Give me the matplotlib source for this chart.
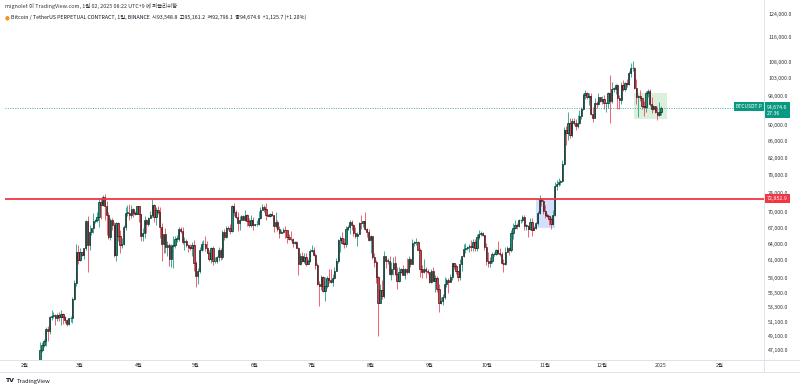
import numpy as np
import pandas as pd
import matplotlib
matplotlib.use('Agg')
import matplotlib.pyplot as plt
import matplotlib.dates as mdates
import matplotlib.transforms as mtransforms
from matplotlib.patches import Rectangle
from matplotlib.lines import Line2D

plt.rcParams['font.family'] = ['Noto Sans CJK KR', 'DejaVu Sans']

# ---------------- data (prices in thousands USDT) ----------------
start_date = '2024-02-01'
first_open_k = 42.6

close_k = [
    # Feb
    43.1,43.2,43.0,42.6,42.7,43.1,44.3,45.3,47.1,47.8,48.3,50.0,49.7,51.8,52.0,52.1,51.6,52.1,51.8,52.3,51.8,51.3,50.7,51.6,51.7,54.5,57.1,62.5,61.1,
    # Mar
    62.4,62.0,63.1,68.3,63.8,66.1,66.9,68.3,68.5,69.0,72.1,71.5,73.1,71.4,69.5,65.3,68.4,67.6,61.9,67.9,65.5,63.8,64.0,67.2,69.9,69.9,69.5,70.7,69.9,69.6,71.3,
    # Apr
    69.7,65.5,66.0,68.5,67.8,68.9,69.4,71.6,69.1,70.6,70.0,67.1,64.0,65.7,63.4,63.8,61.3,63.5,63.8,64.9,64.9,66.8,66.4,64.3,64.5,63.8,63.4,63.1,63.8,60.6,
    # May
    58.3,59.1,62.9,63.9,64.0,63.2,62.3,61.2,63.1,60.8,60.8,61.5,62.9,61.6,66.2,65.2,67.0,66.9,66.3,71.4,70.1,69.1,67.9,68.5,69.3,68.5,69.4,68.3,67.6,68.4,67.5,
    # Jun
    67.7,67.8,68.8,70.5,71.1,70.8,69.4,69.3,69.6,69.5,67.3,68.2,66.8,66.0,66.2,66.6,66.5,65.2,64.9,64.8,64.1,64.3,63.2,60.3,61.8,60.9,61.6,60.3,60.9,62.7,
    # Jul
    62.8,62.0,60.2,57.0,56.7,58.2,55.9,56.7,58.0,57.7,57.3,57.9,59.2,60.8,64.7,65.1,64.1,63.9,66.7,67.2,68.2,67.6,65.9,65.4,65.8,68.0,67.9,68.3,66.8,66.2,64.6,
    # Aug
    65.4,61.5,60.7,58.1,54.0,56.0,55.1,61.7,60.9,60.9,58.7,59.4,60.6,58.7,57.5,58.9,59.5,58.4,59.5,59.0,61.2,60.4,64.1,64.2,64.2,62.8,59.4,59.0,59.4,59.1,58.9,
    # Sep
    57.3,59.1,57.5,57.9,56.2,53.9,54.2,54.8,57.0,57.6,57.3,58.1,60.5,60.0,59.1,58.2,60.3,61.8,63.0,63.2,63.3,63.6,63.3,64.3,63.1,65.2,65.8,65.9,65.6,63.3,
    # Oct
    60.8,60.6,60.8,62.1,62.1,62.8,62.2,62.1,60.6,60.3,62.4,63.2,62.8,66.0,67.0,67.6,67.4,68.4,68.4,69.0,67.4,67.4,66.7,68.2,66.6,67.0,67.9,69.9,72.7,72.3,70.2,
    # Nov
    69.5,69.3,68.7,67.8,69.4,75.6,75.9,76.5,76.7,80.4,88.7,87.9,90.5,87.4,91.0,90.6,89.8,90.5,92.3,94.3,98.3,98.9,97.7,98.0,93.0,91.9,95.9,95.6,97.5,96.4,
    # Dec
    97.2,95.9,96.0,98.8,96.6,99.9,99.9,101.2,97.4,96.7,101.2,100.0,101.5,101.4,104.5,106.1,106.1,100.2,97.5,97.8,97.3,95.2,94.9,98.7,99.3,95.8,94.2,95.2,93.6,92.8,93.5488,
    # Jan 2025
    94.6746,
]

high_k = [
    43.3,43.5,43.4,43.1,43.5,43.4,44.5,45.6,48.2,48.2,48.6,50.3,50.4,52.0,52.8,52.6,52.2,52.4,52.5,52.9,52.4,52.0,51.5,51.7,51.9,54.9,57.6,64.0,63.7,
    63.2,62.5,63.2,68.5,69.2,67.6,67.0,69.9,68.6,70.0,72.8,73.0,73.6,73.8,72.4,70.0,68.9,68.9,68.1,68.1,68.2,66.6,65.0,67.6,71.2,71.5,71.8,71.6,70.9,70.3,71.4,
    71.3,69.7,66.9,69.3,68.7,69.0,70.3,72.8,71.8,71.2,71.3,71.2,67.9,65.8,66.9,64.4,64.1,64.0,65.5,65.4,65.6,67.2,67.2,67.1,65.3,64.8,63.9,64.0,64.2,64.7,
    60.8,59.6,63.3,64.5,64.6,65.5,64.4,62.9,63.4,63.5,61.5,61.8,63.4,63.1,66.5,66.7,67.4,67.4,67.7,71.5,71.9,70.6,70.0,69.2,69.5,69.5,70.6,69.6,68.9,69.5,69.0,
    67.8,68.4,70.3,71.1,71.8,71.6,72.0,69.6,69.9,70.2,69.5,70.0,68.4,67.4,66.5,67.0,67.3,66.5,65.7,66.4,65.0,64.5,64.5,63.4,62.3,62.5,62.3,62.2,61.2,63.0,
    63.8,63.3,62.3,60.5,57.5,58.5,58.3,58.2,58.3,59.5,59.5,58.6,59.9,61.4,64.9,65.4,66.1,65.1,67.4,67.6,68.4,68.5,67.8,67.1,66.1,68.2,69.4,68.3,70.0,66.9,66.8,
    65.6,65.5,62.2,61.1,58.3,57.0,57.7,62.7,61.7,61.4,61.8,60.7,61.6,61.8,59.8,59.8,59.6,60.2,59.6,61.4,61.8,61.4,64.9,64.5,65.0,64.5,63.2,60.2,61.2,59.9,59.4,
    59.0,59.4,59.8,58.5,58.3,56.9,54.8,55.3,58.1,58.0,57.9,58.6,60.6,60.6,60.4,59.2,61.3,61.8,63.9,64.1,63.5,64.0,64.7,64.8,64.8,65.8,66.5,66.3,66.1,65.6,
    64.1,62.4,61.5,62.5,62.4,63.0,64.5,63.2,62.5,61.3,63.4,63.5,63.3,66.5,67.9,68.4,67.9,68.7,68.7,69.4,69.5,67.8,67.5,68.8,68.8,67.4,68.2,70.3,73.6,72.9,72.7,
    71.6,69.9,69.4,69.0,70.6,76.5,76.9,77.3,76.8,81.5,89.6,89.9,93.4,91.8,91.9,91.8,91.6,92.6,94.0,94.9,98.9,99.6,99.0,98.7,98.9,94.8,97.3,96.6,98.7,97.6,
    98.0,98.2,96.3,99.0,104.0,101.9,100.5,101.4,101.3,98.3,101.9,102.5,102.0,102.7,105.1,107.8,108.3,106.5,102.8,98.1,99.5,97.4,96.5,99.4,99.9,99.9,97.5,95.5,95.2,94.9,96.2,
    95.1612,
]

low_k = [
    42.0,42.6,42.9,42.3,42.3,42.6,42.8,44.3,45.2,46.8,47.5,47.7,48.3,49.3,51.3,51.6,50.6,51.2,51.2,50.6,50.8,50.9,50.5,50.6,51.0,50.9,54.4,56.7,60.4,
    60.8,61.7,61.3,62.8,59.0,62.8,65.6,66.0,68.0,68.2,67.2,68.7,71.3,68.5,65.6,64.8,64.6,66.6,61.5,60.8,64.5,62.3,63.1,63.8,66.6,69.3,68.4,68.9,69.1,69.5,69.6,
    68.1,64.5,64.5,65.1,66.0,67.3,68.8,69.1,68.2,67.5,69.6,65.1,60.9,62.3,62.3,61.8,60.0,59.8,59.6,63.2,64.2,64.5,65.9,63.9,62.8,63.3,62.5,62.8,61.8,59.2,
    56.5,56.9,58.8,62.6,62.9,62.7,62.3,60.9,60.6,60.2,60.5,60.6,60.8,61.1,61.3,64.6,65.1,66.6,65.8,66.1,69.2,68.9,66.3,66.6,68.5,68.4,68.3,67.3,67.1,67.1,66.6,
    67.4,67.3,67.6,68.6,70.4,70.1,68.5,69.2,69.1,69.2,66.1,66.9,66.3,65.1,65.9,66.0,65.1,64.1,64.7,64.5,63.4,63.9,63.2,58.4,60.2,60.7,60.6,60.0,60.3,60.7,
    62.5,61.8,59.4,56.8,53.5,56.0,55.7,54.3,56.3,57.2,57.1,56.6,57.8,59.1,60.6,62.4,63.9,63.2,63.3,66.5,65.8,66.6,65.4,65.1,63.5,65.8,66.7,67.1,66.5,65.3,64.5,
    62.3,61.3,59.9,57.2,49.0,53.9,54.6,54.7,59.6,60.3,58.4,57.7,58.5,58.4,56.1,57.3,58.8,58.4,57.8,58.6,58.8,59.8,60.4,63.6,63.8,62.8,58.1,57.9,58.8,57.9,58.7,
    57.2,57.1,57.4,55.6,55.7,52.6,53.7,53.6,54.6,56.4,55.5,57.3,57.6,59.4,58.7,57.5,57.6,59.2,61.6,62.3,62.8,62.4,62.7,62.7,62.7,62.7,64.8,65.4,65.4,62.9,
    60.2,59.9,59.8,60.5,61.7,62.0,62.1,61.8,60.3,58.9,60.1,62.4,62.0,62.4,64.8,66.7,66.7,67.1,68.0,68.1,66.6,66.6,65.3,66.5,65.5,66.5,66.8,67.5,69.7,71.4,69.7,
    68.8,69.0,67.5,66.8,67.5,69.3,74.6,75.6,75.8,76.5,80.2,85.1,86.3,86.7,87.1,90.1,88.8,89.4,90.4,91.5,94.0,97.2,97.2,95.4,92.6,90.8,91.8,94.6,95.3,96.2,
    95.7,94.4,93.6,94.7,90.5,95.9,99.0,98.6,94.2,94.3,95.6,99.3,99.2,100.6,101.2,103.3,105.3,100.0,95.6,92.2,96.4,94.2,92.4,93.4,97.6,95.2,93.3,94.0,93.3,91.3,92.5,
    92.7961,
]

resistance_level = 72852.9
last_price = 94674.6

y_ticks = [47100, 49100, 51100, 53300, 55500, 58000, 61000, 64000, 67000, 70000,
           74000, 78000, 82000, 86000, 90000, 98000, 103000, 108000, 116000, 124000]

month_ticks = ['2024-02-01', '2024-03-01', '2024-04-01', '2024-05-01', '2024-06-01',
               '2024-07-01', '2024-08-01', '2024-09-01', '2024-10-01', '2024-11-01',
               '2024-12-01', '2025-01-01', '2025-02-01']
month_labels = ['2월', '3월', '4월', '5월', '6월', '7월', '8월', '9월', '10월', '11월',
                '12월', '2025', '2월']

blue_box_dates = ['2024-10-27', '2024-11-06']
blue_box_prices = [66900, 72800]
green_box_dates = ['2024-12-18', '2025-01-04']
green_box_prices = [91600, 98700]

header1 = 'mignolet 이 TradingView.com, 1월 02, 2025 08:22 UTC+9 에 퍼블리쉬함'
header2_title = 'Bitcoin / TetherUS PERPETUAL CONTRACT, 1일, BINANCE'
header2_vals = '시93,548.8  고95,161.2  저92,796.1  종94,674.6  +1,125.7 (+1.20%)'

# ---------------- build ----------------
close = np.array(close_k) * 1000
high = np.array(high_k) * 1000
low = np.array(low_k) * 1000
open_ = np.concatenate([[first_open_k * 1000], close[:-1]])
dates = pd.date_range(start_date, periods=len(close), freq='D')
x = mdates.date2num(dates)

UP = '#089981'
DN = '#f23645'

W, H = 800, 388
fig = plt.figure(figsize=(W / 100, H / 100), dpi=100)
ax_l, ax_r, ax_t, ax_b = 5, 764, 11, 360
ax = fig.add_axes([ax_l / W, 1 - ax_b / H, (ax_r - ax_l) / W, (ax_b - ax_t) / H])
ax.set_yscale('log')
ax.set_ylim(45762, 125076)
x0 = mdates.date2num(pd.Timestamp('2024-02-01'))
ax.set_xlim(x0 - 10.5, x0 + 389.2)

up = close >= open_
cols = np.where(up, UP, DN)

# boxes (behind candles)
for dts, prs, fc in [(blue_box_dates, blue_box_prices, '#2962ff'),
                     (green_box_dates, green_box_prices, '#4caf50')]:
    xa, xb = mdates.date2num(pd.Timestamp(dts[0])), mdates.date2num(pd.Timestamp(dts[1]))
    ax.add_patch(Rectangle((xa, prs[0]), xb - xa, prs[1] - prs[0],
                           facecolor=fc, alpha=0.2, edgecolor='none', zorder=1))

ax.vlines(x, low, high, colors=cols, lw=0.55, zorder=3)
body_bot = np.minimum(open_, close)
body_h = np.maximum(np.abs(close - open_), body_bot * 0.0015)
ax.bar(x, body_h, bottom=body_bot, width=0.68, color=cols, edgecolor='#161616',
       linewidth=0.45, zorder=4)

ax.axhline(resistance_level, color='#f23645', lw=1.3, zorder=5)
ax.axhline(last_price, color=UP, lw=0.5, ls=(0, (1.5, 2)), zorder=2)

# axes styling
for s in ['top', 'left']:
    ax.spines[s].set_visible(False)
ax.spines['right'].set_color('#e0e3eb')
ax.spines['bottom'].set_color('#e0e3eb')
ax.spines['right'].set_linewidth(0.7)
ax.spines['bottom'].set_linewidth(0.7)
ax.yaxis.tick_right()
ax.yaxis.set_minor_locator(matplotlib.ticker.NullLocator())
ax.set_yticks(y_ticks)
ax.set_yticklabels([f'{v:,.1f}' for v in y_ticks])
ax.tick_params(axis='y', length=0, pad=3, labelsize=3.8, labelcolor='#333333')
ax.set_xticks([mdates.date2num(pd.Timestamp(d)) for d in month_ticks])
ax.set_xticklabels(month_labels)
ax.tick_params(axis='x', length=0, pad=2.2, labelsize=3.8, labelcolor='#333333')
ax.grid(False)

# price labels on the axis
tr = mtransforms.blended_transform_factory(ax.transAxes, ax.transData)
ax.text(1.004, resistance_level, f'{resistance_level:,.1f}', transform=tr, ha='left',
        va='center', fontsize=3.8, color='white', clip_on=False, zorder=10,
        bbox=dict(boxstyle='square,pad=0.35', fc='#f23645', ec='none'))
ax.text(1.004, last_price * 0.992, f'{last_price:,.1f}\n27:36', transform=tr, ha='left',
        va='center', fontsize=3.8, color='white', clip_on=False, zorder=10, linespacing=1.3,
        bbox=dict(boxstyle='square,pad=0.45', fc=UP, ec='none'))
ax.text(0.9985, last_price * 1.004, 'BTCUSDT.P', transform=tr, ha='right',
        va='center', fontsize=3.6, color='white', clip_on=False, zorder=10,
        bbox=dict(boxstyle='square,pad=0.35', fc=UP, ec='none'))

# frame lines
fig.add_artist(Line2D([ax_r / W, ax_r / W], [1 - 372 / H, 1.0], color='#e0e3eb', lw=0.7))
fig.add_artist(Line2D([0, 1], [1 - 360 / H, 1 - 360 / H], color='#e0e3eb', lw=0.7))
fig.add_artist(Line2D([0, 1], [1 - 372 / H, 1 - 372 / H], color='#e0e3eb', lw=0.7))

# header texts
fig.text(5 / W, 1 - 6 / H, header1, fontsize=3.9, color='#333333', va='center', ha='left')
fig.text(5 / W, 1 - 17.5 / H, '●', fontsize=4, color='#f7931a', va='center', ha='left',
         family='DejaVu Sans')
t2 = fig.text(11 / W, 1 - 17.5 / H, header2_title + '  ', fontsize=3.8, color='#131722',
              va='center', ha='left')
fig.canvas.draw()
bb = t2.get_window_extent()
fig.text(bb.x1 / W, 1 - 17.5 / H, header2_vals, fontsize=3.8, color='#131722',
         va='center', ha='left')

# TradingView logo
fig.text(5 / W, 1 - 381 / H, 'TV', fontsize=4.5, color='#131722', weight='bold',
         va='center', ha='left', family='DejaVu Sans')
fig.text(17 / W, 1 - 381 / H, 'TradingView', fontsize=4.2, color='#131722',
         va='center', ha='left')

fig.savefig('out.png', dpi=100, facecolor='white')
